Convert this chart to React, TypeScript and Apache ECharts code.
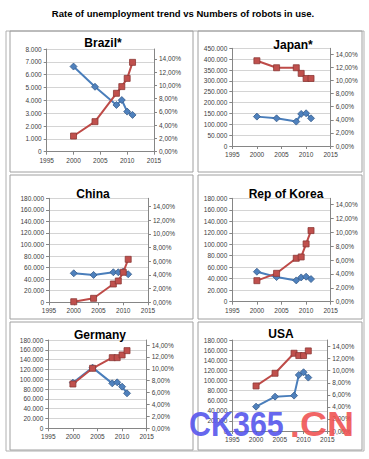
import React, { useEffect, useRef } from 'react';
import * as echarts from 'echarts';

const years = [2000, 2004, 2008, 2009, 2010, 2011];

const brazilRobots = [1220, 2340, 4550, 5070, 5710, 6960];
const brazilUnemp = [12.85, 9.8, 7.05, 7.8, 6.05, 5.55];
const japanRobots = [392600, 360400, 360400, 334400, 311000, 311000];
const japanUnemp = [4.48, 4.22, 3.72, 4.89, 4.99, 4.22];
const chinaRobots = [1000, 6900, 31700, 36900, 52000, 74400];
const chinaUnemp = [4.24, 4.0, 4.39, 4.39, 4.49, 4.1];
const koreaRobots = [36600, 49400, 75600, 77900, 100600, 123800];
const koreaUnemp = [4.32, 3.55, 3.07, 3.5, 3.6, 3.26];
const germanyRobots = [90300, 122300, 144000, 144000, 149500, 158300];
const germanyUnemp = [7.67, 10.2, 7.56, 7.73, 7.0, 5.88];
const usaRobots = [89100, 114200, 153800, 149200, 149200, 158400];
const usaUnemp = [4.04, 5.7, 5.87, 9.3, 9.75, 8.86];

const rateTicks = [0, 2, 4, 6, 8, 10, 12, 14];

const mainTitle = 'Rate of unemployment trend vs Numbers of robots in use.';

const panels = [
  { name: 'Brazil*', robots: brazilRobots, unemp: brazilUnemp, leftMax: 8000, leftInt: 1000, rightMax: 15.5,
    grid: { left: 46.7, right: 215, top: 49, bottom: 307.3 }, tx: 103, ty: 43,
    box: [10, 31, 183, 141] },
  { name: 'Japan*', robots: japanRobots, unemp: japanUnemp, leftMax: 450000, leftInt: 50000, rightMax: 14.9,
    grid: { left: 232.3, right: 38.3, top: 48.3, bottom: 313 }, tx: 293, ty: 45,
    box: [198, 31, 164, 141] },
  { name: 'China', robots: chinaRobots, unemp: chinaUnemp, leftMax: 180000, leftInt: 20000, rightMax: 15.2,
    grid: { left: 49, right: 221, top: 198.3, bottom: 156.7 }, tx: 93, ty: 194,
    box: [10, 175, 183, 144] },
  { name: 'Rep of Korea', robots: koreaRobots, unemp: koreaUnemp, leftMax: 180000, leftInt: 20000, rightMax: 14.9,
    grid: { left: 232.3, right: 38.3, top: 198.3, bottom: 157.3 }, tx: 286, ty: 194,
    box: [198, 175, 164, 144] },
  { name: 'Germany', robots: germanyRobots, unemp: germanyUnemp, leftMax: 180000, leftInt: 20000, rightMax: 14.85,
    grid: { left: 48.3, right: 222.3, top: 340, bottom: 30.7 }, tx: 100, ty: 335,
    box: [10, 322, 183, 128] },
  { name: 'USA', robots: usaRobots, unemp: usaUnemp, leftMax: 180000, leftInt: 20000, rightMax: 15.1,
    grid: { left: 232.3, right: 41.7, top: 340, bottom: 28 }, tx: 281, ty: 334,
    box: [198, 322, 164, 128] },
];

const labelFont = { fontFamily: '"Liberation Sans", Arial, sans-serif', fontSize: 6.5, color: '#404040' };
const axisLineColor = '#868686';

const fmtThousands = (v: number) => String(v).replace(/\B(?=(\d{3})+(?!\d))/g, '.');
const fmtPct = (v: number) => v.toFixed(2).replace('.', ',') + '%';

export default function App() {
  const ref = useRef<HTMLDivElement>(null);
  useEffect(() => {
    if (!ref.current) return;
    const chart = echarts.init(ref.current, null, { renderer: 'svg' });

    const grids: any[] = [];
    const xAxes: any[] = [];
    const yAxes: any[] = [];
    const series: any[] = [];
    const graphics: any[] = [];

    graphics.push({
      type: 'rect', shape: { x: 6, y: 31, width: 358, height: 420 },
      style: { fill: 'none', stroke: '#b0b0b0', lineWidth: 1 }, z: 0,
    });

    panels.forEach((p, i) => {
      grids.push({ ...p.grid, containLabel: false });
      xAxes.push({
        type: 'value', gridIndex: i, min: 1995, max: 2015, interval: 5,
        axisLine: { show: true, onZero: false, lineStyle: { color: axisLineColor, width: 1 } },
        axisTick: { show: true, inside: false, length: 3, lineStyle: { color: axisLineColor } },
        splitLine: { show: false },
        axisLabel: { ...labelFont, margin: 5, formatter: (v: number) => String(v) },
      });
      yAxes.push({
        type: 'value', gridIndex: i, position: 'left', min: 0, max: p.leftMax, interval: p.leftInt,
        axisLine: { show: true, lineStyle: { color: axisLineColor, width: 1 } },
        axisTick: { show: true, inside: false, length: 3, lineStyle: { color: axisLineColor } },
        splitLine: { show: true, lineStyle: { color: '#d4d4d4', width: 1 } },
        axisLabel: { ...labelFont, margin: 5, formatter: (v: number) => fmtThousands(v) },
      });
      yAxes.push({
        type: 'value', gridIndex: i, position: 'right', min: 0, max: p.rightMax,
        axisLine: { show: true, lineStyle: { color: axisLineColor, width: 1 } },
        axisTick: { show: true, inside: false, length: 3, lineStyle: { color: axisLineColor }, customValues: rateTicks },
        splitLine: { show: false },
        axisLabel: { ...labelFont, margin: 5, customValues: rateTicks, formatter: (v: number) => fmtPct(v) },
      });
      series.push({
        type: 'line', xAxisIndex: i, yAxisIndex: 2 * i + 1,
        data: years.map((y, k) => [y, p.unemp[k]]),
        symbol: 'diamond', symbolSize: 7,
        lineStyle: { color: '#4A7EBB', width: 2 },
        itemStyle: { color: '#4F81BD', borderColor: '#385D8A', borderWidth: 0.8 },
        z: 3,
      });
      series.push({
        type: 'line', xAxisIndex: i, yAxisIndex: 2 * i,
        data: years.map((y, k) => [y, p.robots[k]]),
        symbol: 'rect', symbolSize: 6,
        lineStyle: { color: '#BE4B48', width: 2 },
        itemStyle: { color: '#C0504D', borderColor: '#8C3836', borderWidth: 0.8 },
        z: 4,
      });
      graphics.push({
        type: 'rect', shape: { x: p.box[0], y: p.box[1], width: p.box[2], height: p.box[3] },
        style: { fill: 'none', stroke: '#a0a0a0', lineWidth: 1 }, z: 0,
      });
      graphics.push({
        type: 'text', x: p.tx, y: p.ty,
        style: { text: p.name, align: 'center', verticalAlign: 'middle',
          font: 'bold 12px "Liberation Sans", Arial, sans-serif', fill: '#000' }, z: 10,
      });
    });

    graphics.push({
      type: 'text', x: 183, y: 13,
      style: { text: mainTitle, align: 'center', verticalAlign: 'middle',
        font: 'bold 9.5px "Liberation Sans", Arial, sans-serif', fill: '#000' }, z: 10,
    });
    graphics.push({
      type: 'text', x: 189, y: 424, scaleX: 0.87,
      style: { text: 'CK365', align: 'left', verticalAlign: 'middle',
        font: 'bold 35px "Liberation Sans", Arial, sans-serif', fill: '#5252EC', opacity: 0.88 }, z: 20,
    });
    graphics.push({
      type: 'text', x: 290, y: 424,
      style: { text: '.', align: 'left', verticalAlign: 'middle',
        font: 'bold 35px "Liberation Sans", Arial, sans-serif', fill: '#F05050', opacity: 0.88 }, z: 20,
    });
    graphics.push({
      type: 'text', x: 300, y: 424, scaleX: 1.07,
      style: { text: 'CN', align: 'left', verticalAlign: 'middle',
        font: 'bold 35px "Liberation Sans", Arial, sans-serif', fill: '#F05050', opacity: 0.88 }, z: 20,
    });

    chart.setOption({
      animation: false,
      backgroundColor: '#ffffff',
      grid: grids,
      xAxis: xAxes,
      yAxis: yAxes,
      series,
      graphic: graphics,
    });
    return () => chart.dispose();
  }, []);
  return <div ref={ref} style={{ position: 'fixed', left: 0, top: 0, width: 369, height: 459 }} />;
}
